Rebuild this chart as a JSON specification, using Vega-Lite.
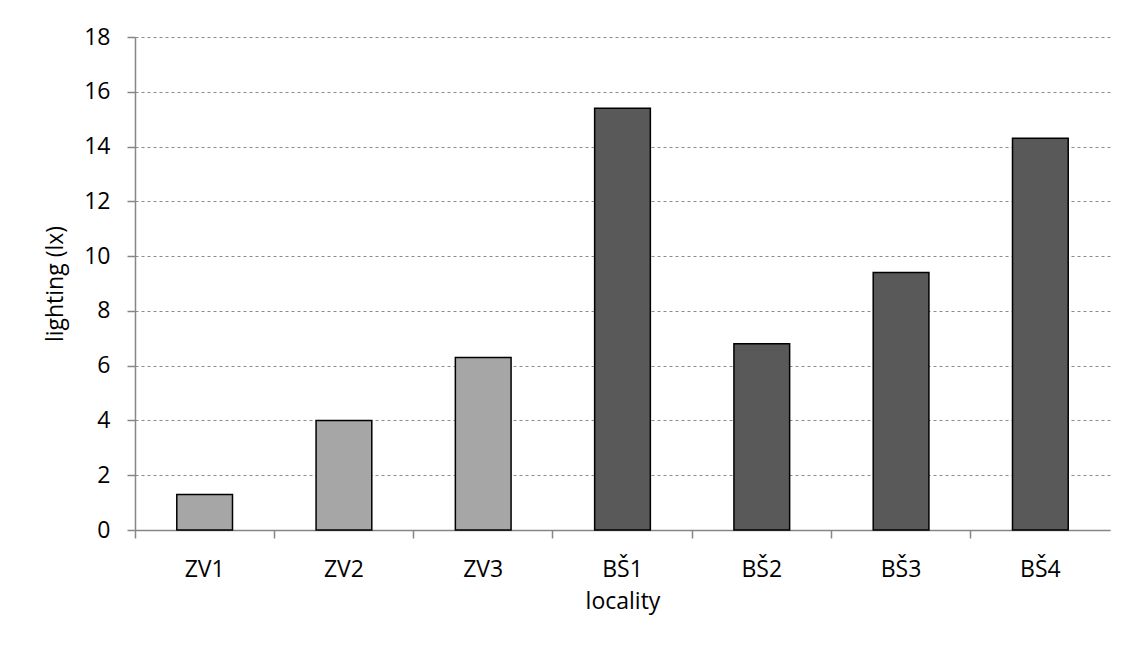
{
  "$schema": "https://vega.github.io/schema/vega-lite/v6.json",
  "width": 975,
  "height": 493,
  "autosize": {"type": "none"},
  "padding": {"left": 135, "top": 37, "right": 22, "bottom": 117},
  "background": "white",
  "config": {
    "view": {"stroke": null},
    "font": "Open Sans"
  },
  "data": {
    "values": [
      {"locality": "ZV1", "lighting": 1.3, "group": "ZV"},
      {"locality": "ZV2", "lighting": 4.0, "group": "ZV"},
      {"locality": "ZV3", "lighting": 6.3, "group": "ZV"},
      {"locality": "BŠ1", "lighting": 15.4, "group": "BŠ"},
      {"locality": "BŠ2", "lighting": 6.8, "group": "BŠ"},
      {"locality": "BŠ3", "lighting": 9.4, "group": "BŠ"},
      {"locality": "BŠ4", "lighting": 14.3, "group": "BŠ"}
    ]
  },
  "mark": {"type": "bar", "width": {"band": 0.4}, "stroke": "black", "strokeWidth": 1.5},
  "encoding": {
    "x": {
      "field": "locality",
      "type": "nominal",
      "sort": null,
      "scale": {"paddingInner": 0, "paddingOuter": 0},
      "axis": {
        "title": "locality",
        "labelAngle": 0,
        "bandPosition": 0,
        "labelFont": "Open Sans",
        "labelFontSize": 23,
        "labelColor": "black",
        "labelPadding": 20,
        "titleFont": "Open Sans",
        "titleFontSize": 23,
        "titleFontWeight": "normal",
        "titleColor": "black",
        "titlePadding": 9,
        "domainColor": "#868686",
        "domainWidth": 1.5,
        "tickColor": "#868686",
        "tickWidth": 1.5,
        "tickSize": 8,
        "grid": false
      }
    },
    "y": {
      "field": "lighting",
      "type": "quantitative",
      "scale": {"domain": [0, 18], "nice": false},
      "axis": {
        "title": "lighting (lx)",
        "values": [0, 2, 4, 6, 8, 10, 12, 14, 16, 18],
        "labelFont": "Open Sans",
        "labelFontSize": 23,
        "labelColor": "black",
        "labelPadding": 17,
        "titleFont": "Open Sans",
        "titleFontSize": 23,
        "titleFontWeight": "normal",
        "titleColor": "black",
        "titlePadding": 16,
        "domainColor": "#868686",
        "domainWidth": 1.5,
        "tickColor": "#868686",
        "tickWidth": 1.5,
        "tickSize": 8,
        "grid": true,
        "gridColor": "#8c8c8c",
        "gridDash": [3, 3],
        "gridWidth": 1
      }
    },
    "fill": {
      "field": "group",
      "type": "nominal",
      "scale": {"domain": ["ZV", "BŠ"], "range": ["#a6a6a6", "#595959"]},
      "legend": null
    }
  }
}
